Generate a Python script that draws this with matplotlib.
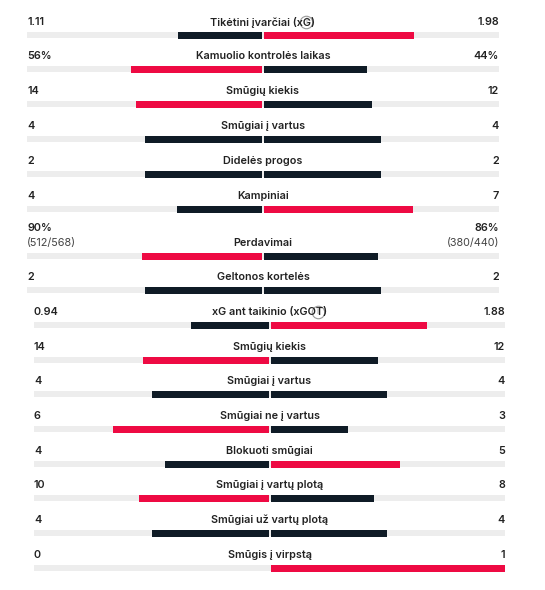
import numpy as np
import matplotlib.pyplot as plt

labels = ["Tikėtini įvarčiai (xG)", "Kamuolio kontrolės laikas", "Smūgių kiekis",
          "Smūgiai į vartus", "Didelės progos", "Kampiniai", "Perdavimai",
          "Geltonos kortelės", "xG ant taikinio (xGOT)", "Smūgių kiekis",
          "Smūgiai į vartus", "Smūgiai ne į vartus", "Blokuoti smūgiai",
          "Smūgiai į vartų plotą", "Smūgiai už vartų plotą", "Smūgis į virpstą"]
home = [1.11, 56, 14, 4, 2, 4, 90, 2, 0.94, 14, 4, 6, 4, 10, 4, 0]
away = [1.98, 44, 12, 4, 2, 7, 86, 2, 1.88, 12, 4, 3, 5, 8, 4, 1]
home_txt = ["1.11", "56%", "14", "4", "2", "4", "90%", "2", "0.94", "14", "4", "6", "4", "10", "4", "0"]
away_txt = ["1.98", "44%", "12", "4", "2", "7", "86%", "2", "1.88", "12", "4", "3", "5", "8", "4", "1"]
home_sub = {6: "(512/568)"}
away_sub = {6: "(380/440)"}
info = {0: 43, 8: 48}

bar_y = [35, 69, 104, 139, 174, 209, 256, 290, 325, 360, 394, 429, 464, 498, 533, 568]

RED = "#ee0a43"
DARK = "#0f1b26"
TRACK = "#ededed"
TXT = "#222222"

plt.rcParams['font.family'] = ['Inter', 'DejaVu Sans']
fig = plt.figure(figsize=(5.45, 5.9), dpi=100)
ax = fig.add_axes([0, 0, 1, 1])
ax.set_xlim(0, 545)
ax.set_ylim(590, 0)
ax.axis("off")

for i in range(len(labels)):
    if i < 8:
        x0, x1 = 27, 499
    else:
        x0, x1 = 34, 505
    c = (x0 + x1) / 2
    half = (x1 - x0) / 2
    y = bar_y[i]
    tot = home[i] + away[i]
    lh = home[i] / tot * half
    rh = away[i] / tot * half
    hc = RED if home[i] > away[i] else DARK
    ac = RED if away[i] > home[i] else DARK
    ax.barh(y, x1 - x0, left=x0, height=6, color=TRACK)
    if lh > 0:
        ax.barh(y, lh - 1, left=c - lh, height=7, color=hc)
    if rh > 0:
        ax.barh(y, rh - 1, left=c + 1, height=7, color=ac)
    ty = y - 13
    ax.text(c, ty, labels[i], ha="center", va="center", fontsize=7.8,
            fontweight="semibold", color=TXT)
    if i in home_sub:
        ax.text(x0, ty - 15, home_txt[i], ha="left", va="center", fontsize=7.8,
                fontweight="semibold", color=TXT)
        ax.text(x0, ty, home_sub[i], ha="left", va="center", fontsize=7.8, color="#444444")
        ax.text(x1, ty - 15, away_txt[i], ha="right", va="center", fontsize=7.8,
                fontweight="semibold", color=TXT)
        ax.text(x1, ty, away_sub[i], ha="right", va="center", fontsize=7.8, color="#444444")
    else:
        ax.text(x0, ty, home_txt[i], ha="left", va="center", fontsize=7.8,
                fontweight="semibold", color=TXT)
        ax.text(x1, ty, away_txt[i], ha="right", va="center", fontsize=7.8,
                fontweight="semibold", color=TXT)
    if i in info:
        ix = c + info[i]
        ax.plot(ix, ty, marker="o", ms=9, mfc="white", mec="#999999", mew=0.8)
        ax.text(ix, ty, "i", ha="center", va="center", fontsize=6, color="#999999")

fig.savefig("out.png", dpi=100, facecolor="white")
